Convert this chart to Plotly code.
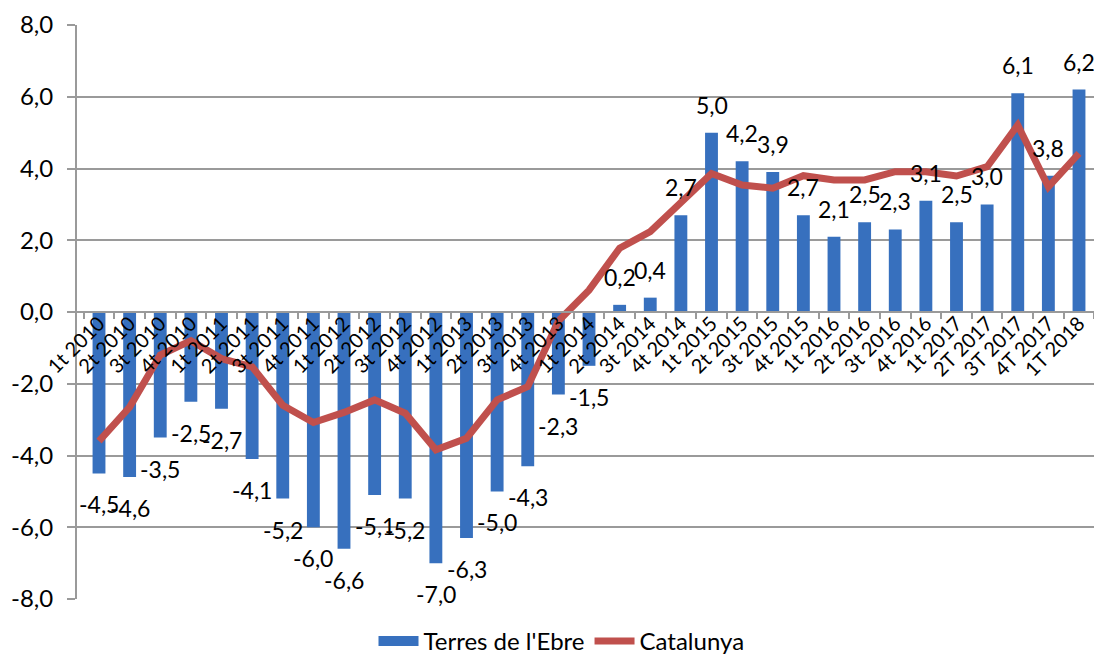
import plotly.graph_objects as go

categories = ["1t 2010", "2t 2010", "3t 2010", "4t 2010",
              "1t 2011", "2t 2011", "3t 2011", "4t 2011",
              "1t 2012", "2t 2012", "3t 2012", "4t 2012",
              "1t 2013", "2t 2013", "3t 2013", "4t 2013",
              "1t 2014", "2t 2014", "3t 2014", "4t 2014",
              "1t 2015", "2t 2015", "3t 2015", "4t 2015",
              "1t 2016", "2t 2016", "3t 2016", "4t 2016",
              "1t 2017", "2T 2017", "3T 2017", "4T 2017", "1T 2018"]

terres_ebre = [-4.5, -4.6, -3.5, -2.5, -2.7, -4.1, -5.2, -6.0,
               -6.6, -5.1, -5.2, -7.0, -6.3, -5.0, -4.3, -2.3,
               -1.5, 0.2, 0.4, 2.7, 5.0, 4.2, 3.9, 2.7,
               2.1, 2.5, 2.3, 3.1, 2.5, 3.0, 6.1, 3.8, 6.2]

catalunya = [-3.6, -2.65, -1.2, -0.8, -1.3, -1.53, -2.6, -3.08,
             -2.8, -2.45, -2.82, -3.84, -3.52, -2.45, -2.08, -0.25,
             0.61, 1.78, 2.24, 3.07, 3.86, 3.54, 3.45, 3.8,
             3.68, 3.68, 3.91, 3.91, 3.79, 4.05, 5.21, 3.49, 4.42]

y_ticks = [-8, -6, -4, -2, 0, 2, 4, 6, 8]
y_tick_text = [f"{v:.1f}".replace(".", ",") for v in y_ticks]

FONT = "Lato, Calibri, Carlito, 'Open Sans', sans-serif"
GRID = "#9a9a9a"
BLUE = "#3770BE"
RED = "#C0504D"

fig = go.Figure()
fig.add_trace(go.Bar(
    x=categories, y=terres_ebre, name="Terres de l'Ebre",
    marker=dict(color=BLUE, line=dict(width=0)),
    showlegend=False, legendgroup="te",
))
fig.add_trace(go.Scatter(
    x=categories, y=catalunya, name="Catalunya", mode="lines",
    line=dict(color=RED, width=7), showlegend=False,
))
# legend-only entries (no data drawn)
fig.add_trace(go.Scatter(
    x=[None], y=[None], name="Terres de l'Ebre", mode="lines",
    line=dict(color=BLUE, width=11), legendgroup="te",
))
fig.add_trace(go.Scatter(
    x=[None], y=[None], name="Catalunya", mode="lines",
    line=dict(color=RED, width=7),
))

annotations = []
for c, v in zip(categories, terres_ebre):
    annotations.append(dict(
        x=c, y=v, text=f"{v:.1f}".replace(".", ","), showarrow=False,
        xanchor="center", yanchor="middle",
        yshift=28 if v >= 0 else -31,
        font=dict(family=FONT, size=23, color="#000000"),
    ))

fig.update_layout(
    width=1094, height=656,
    margin=dict(l=69, r=5, t=17, b=65, autoexpand=False),
    paper_bgcolor="white", plot_bgcolor="white",
    bargap=0.58,
    font=dict(family=FONT, color="#000000"),
    showlegend=True,
    legend=dict(orientation="h", x=0.475, xanchor="center",
                y=-0.113, yanchor="bottom",
                font=dict(family=FONT, size=24, color="#000000"),
                itemwidth=40, traceorder="normal"),
    annotations=annotations,
    xaxis=dict(
        type="category", anchor="free", position=0.5, automargin=False,
        showline=True, linecolor=GRID, linewidth=2,
        ticks="outside", tickson="boundaries", ticklen=6, tickcolor=GRID, tickwidth=2,
        tickangle=-45, tickfont=dict(family=FONT, size=20, color="#000000"),
        ticklabelstandoff=-9,
        showgrid=False, zeroline=False,
    ),
    yaxis=dict(
        range=[-8, 8], tickvals=y_ticks, ticktext=y_tick_text, automargin=False,
        showgrid=True, gridcolor=GRID, gridwidth=1.5,
        zeroline=False,
        showline=True, linecolor=GRID, linewidth=2,
        ticks="outside", ticklen=8, tickcolor=GRID, tickwidth=1.5,
        ticklabelstandoff=9,
        tickfont=dict(family=FONT, size=24, color="#000000"),
    ),
)

fig.write_html("out.html")
